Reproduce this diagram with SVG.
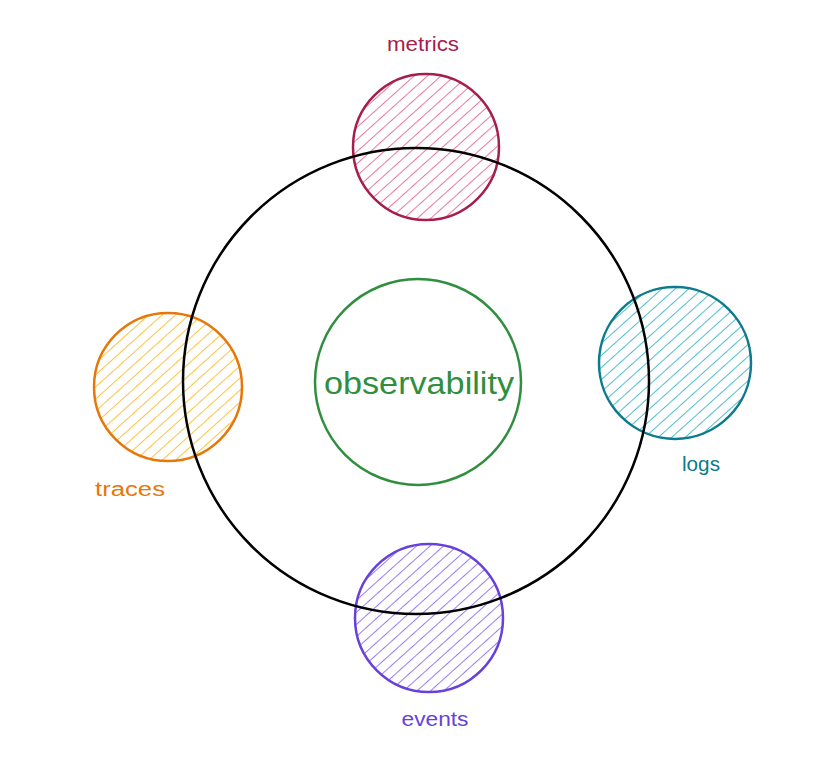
<svg xmlns="http://www.w3.org/2000/svg" width="829" height="765" viewBox="0 0 829 765">
<style>
.lbl{font-family:"Liberation Sans",Arial,sans-serif;font-size:20px;text-anchor:middle}
.ring{stroke-width:2.5}
</style>
<defs>
<pattern id="hM" patternUnits="userSpaceOnUse" width="9" height="9" patternTransform="rotate(48)"><line x1="0" y1="0" x2="0" y2="9" stroke="#e64980" stroke-width="1.5"/></pattern>
<pattern id="hT" patternUnits="userSpaceOnUse" width="9" height="9" patternTransform="rotate(48)"><line x1="0" y1="0" x2="0" y2="9" stroke="#fab005" stroke-width="1.5"/></pattern>
<pattern id="hL" patternUnits="userSpaceOnUse" width="9" height="9" patternTransform="rotate(48)"><line x1="0" y1="0" x2="0" y2="9" stroke="#15aabf" stroke-width="1.5"/></pattern>
<pattern id="hE" patternUnits="userSpaceOnUse" width="9" height="9" patternTransform="rotate(48)"><line x1="0" y1="0" x2="0" y2="9" stroke="#7950f2" stroke-width="1.5"/></pattern>
</defs>
<rect width="829" height="765" fill="#ffffff"/>
<g id="metrics">
<circle cx="426" cy="147" r="73" fill="url(#hM)" class="ring" stroke="#a61e4d"/>
<text class="lbl" x="423" y="51" fill="#a61e4d" textLength="72" lengthAdjust="spacingAndGlyphs">metrics</text>
</g>
<g id="traces">
<circle cx="168" cy="387" r="74" fill="url(#hT)" class="ring" stroke="#e8770a"/>
<text class="lbl" x="130" y="496" fill="#e8770a" textLength="70" lengthAdjust="spacingAndGlyphs">traces</text>
</g>
<g id="logs">
<circle cx="675" cy="363" r="76" fill="url(#hL)" class="ring" stroke="#0c7b8c"/>
<text class="lbl" x="701" y="471" fill="#0c7b8c" textLength="38" lengthAdjust="spacingAndGlyphs">logs</text>
</g>
<g id="events">
<circle cx="429" cy="618" r="74" fill="url(#hE)" class="ring" stroke="#6741d9"/>
<text class="lbl" x="435" y="726" fill="#6741d9" textLength="67" lengthAdjust="spacingAndGlyphs">events</text>
</g>
<g id="connectors">
<circle cx="416" cy="381" r="233" fill="none" stroke="#000000" stroke-width="2.5"/>
</g>
<g id="observability">
<circle cx="418" cy="382" r="103" fill="none" class="ring" stroke="#2f8f3e"/>
<text x="419" y="394" fill="#2f8f3e" style="font-family:'Liberation Sans',Arial,sans-serif;font-size:32px;text-anchor:middle" textLength="190" lengthAdjust="spacingAndGlyphs">observability</text>
</g>
</svg>
